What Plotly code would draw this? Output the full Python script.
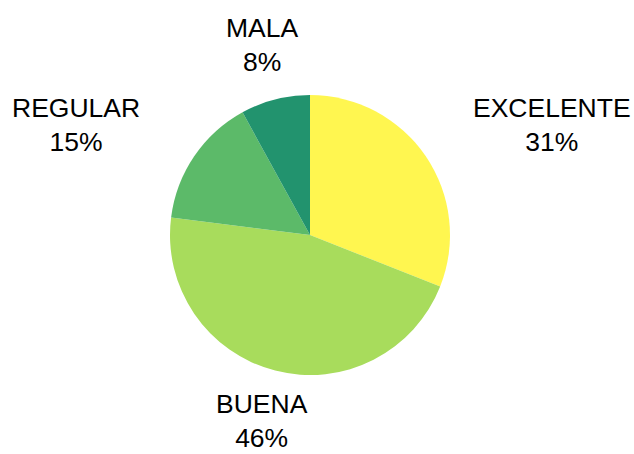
import plotly.graph_objects as go

labels = ["EXCELENTE", "BUENA", "REGULAR", "MALA"]
values = [31, 46, 15, 8]
colors = ["#fff650", "#a8dc5c", "#5cba69", "#22936e"]

# label positions in paper coordinates (x center, y, vertical anchor)
label_pos = {
    "EXCELENTE": (552 / 634, 1 - 125 / 454, "middle"),
    "BUENA": (262 / 634, 0.0, "bottom"),
    "REGULAR": (76 / 634, 1 - 125 / 454, "middle"),
    "MALA": (262 / 634, 1 - 45 / 454, "middle"),
}

total = sum(values)
fig = go.Figure(
    go.Pie(
        labels=labels,
        values=values,
        marker=dict(colors=colors, line=dict(width=0)),
        sort=False,
        direction="clockwise",
        rotation=0,
        textinfo="none",
        hoverinfo="label+percent",
        domain=dict(x=[170 / 634, 450 / 634], y=[1 - 375 / 454, 1 - 95 / 454]),
        showlegend=False,
    )
)

for lab, val in zip(labels, values):
    x, y, ya = label_pos[lab]
    fig.add_annotation(
        x=x, y=y, xref="paper", yref="paper",
        text=f"{lab}<br>{round(100 * val / total)}%",
        showarrow=False,
        xanchor="center", yanchor=ya, borderpad=0,
        font=dict(family="Liberation Sans", size=26.5, color="#000000"),
    )

fig.update_layout(
    width=634, height=454,
    margin=dict(l=0, r=0, t=0, b=0),
    paper_bgcolor="white",
    plot_bgcolor="white",
)

fig.write_html("out.html")
